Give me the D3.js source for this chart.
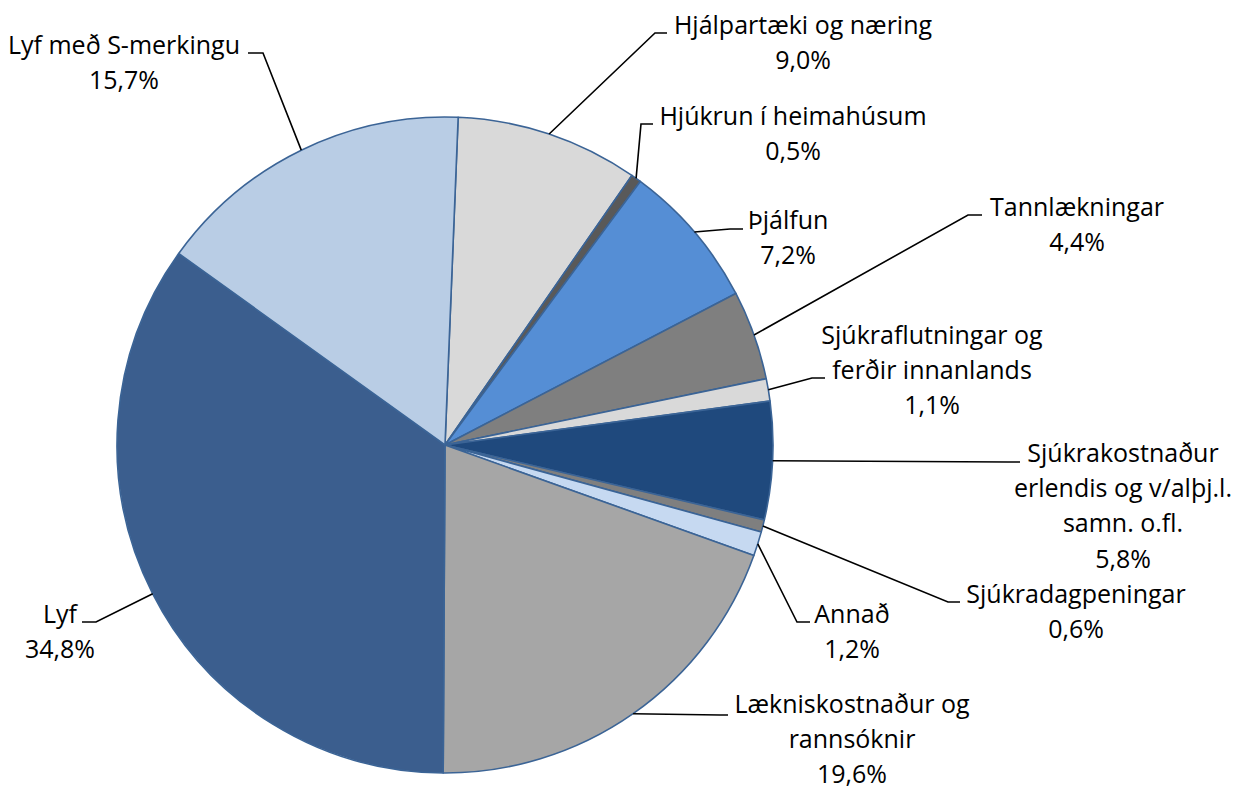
<!DOCTYPE html>
<html>
<head>
<meta charset="utf-8">
<script src="https://cdn.jsdelivr.net/npm/d3@7"></script>
<style>
  html, body { margin: 0; padding: 0; background: #fff; }
  svg { display: block; }
  text { font-family: "Open Sans", sans-serif; font-size: 25px; fill: #000; }
</style>
</head>
<body>
<div id="chart"></div>
<script>
"use strict";
// flokkar, taldir réttsælis frá toppi
const categories = [
    "Hjálpartæki og næring",
    "Hjúkrun í heimahúsum",
    "Þjálfun",
    "Tannlækningar",
    "Sjúkraflutningar og ferðir innanlands",
    "Sjúkrakostnaður erlendis og v/alþj.l. samn. o.fl.",
    "Sjúkradagpeningar",
    "Annað",
    "Lækniskostnaður og rannsóknir",
    "Lyf",
    "Lyf með S-merkingu"
];
const shares = [9.0, 0.5, 7.2, 4.4, 1.1, 5.8, 0.6, 1.2, 19.6, 34.8, 15.7];
const labelLines = [
    ["Hjálpartæki og næring"],
    ["Hjúkrun í heimahúsum"],
    ["Þjálfun"],
    ["Tannlækningar"],
    ["Sjúkraflutningar og", "ferðir innanlands"],
    ["Sjúkrakostnaður", "erlendis og v/alþj.l.", "samn. o.fl."],
    ["Sjúkradagpeningar"],
    ["Annað"],
    ["Lækniskostnaður og", "rannsóknir"],
    ["Lyf"],
    ["Lyf með S-merkingu"]
];
const colors = ["#d9d9d9", "#595959", "#558ed5", "#7f7f7f", "#d9d9d9", "#1f497d",
    "#7f7f7f", "#c6d9f1", "#a6a6a6", "#3b5e8e", "#b9cde5"];

// staðsetning merkja: miðja texta, grunnlína fyrstu línu, olnbogi og endi leiðarlínu
const labelLayout = [
    { cx: 803, y: 34, elbow: [655, 33], end: 667 },
    { cx: 793, y: 125, elbow: [641, 124], end: 653 },
    { cx: 788, y: 229, elbow: [730, 229], end: 743 },
    { cx: 1077, y: 216, elbow: [968, 215], end: 982 },
    { cx: 932, y: 344, elbow: [812, 378], end: 825 },
    { cx: 1123, y: 462, elbow: [1008, 462], end: 1020 },
    { cx: 1076, y: 603, elbow: [948, 602], end: 960 },
    { cx: 852, y: 623, elbow: [797, 622], end: 810 },
    { cx: 852, y: 713, elbow: [720, 715], end: 728 },
    { cx: 60, y: 623, elbow: [96, 622], end: 82 },
    { cx: 124, y: 54, elbow: [263, 53], end: 248 }
];

const width = 1243;
const height = 790;
const center = { x: 445, y: 445 };
const radius = 328;
const lineHeight = 35.2;
const rotation = 2.3 * Math.PI / 180;

const data = categories.map((c, i) => ({ name: c, value: shares[i], lines: labelLines[i], color: colors[i], layout: labelLayout[i] }));

const svg = d3.select("#chart").append("svg")
    .attr("width", width)
    .attr("height", height)
    .attr("viewBox", `0 0 ${width} ${height}`);

const pie = d3.pie()
    .sort(null)
    .value(d => d.value)
    .startAngle(rotation)
    .endAngle(rotation + 2 * Math.PI);

const arc = d3.arc().innerRadius(0).outerRadius(radius);
const arcs = pie(data);

const g = svg.append("g").attr("transform", `translate(${center.x},${center.y})`);

g.selectAll("path.slice")
    .data(arcs)
    .join("path")
    .attr("class", "slice")
    .attr("d", arc)
    .attr("fill", d => d.data.color)
    .attr("stroke", "#3b6496")
    .attr("stroke-width", 1.6)
    .attr("stroke-linejoin", "round");

function edgePoint(d) {
    const a = (d.startAngle + d.endAngle) / 2;
    return [center.x + radius * Math.sin(a), center.y - radius * Math.cos(a)];
}

// leiðarlínur
svg.selectAll("polyline.leader")
    .data(arcs)
    .join("polyline")
    .attr("class", "leader")
    .attr("fill", "none")
    .attr("stroke", "#000")
    .attr("stroke-width", 1.6)
    .attr("points", d => {
        const p = edgePoint(d);
        const L = d.data.layout;
        return [p, L.elbow, [L.end, L.elbow[1]]].map(q => q.join(",")).join(" ");
    });

// merki
const labels = svg.selectAll("text.label")
    .data(arcs)
    .join("text")
    .attr("class", "label")
    .attr("text-anchor", "middle");

labels.each(function (d) {
    const t = d3.select(this);
    const L = d.data.layout;
    const rows = d.data.lines.concat([d3.format(".1f")(d.data.value).replace(".", ",") + "%"]);
    rows.forEach((r, i) => {
        t.append("tspan")
            .attr("x", L.cx)
            .attr("y", L.y + i * lineHeight)
            .text(r);
    });
});
</script>
</body>
</html>
